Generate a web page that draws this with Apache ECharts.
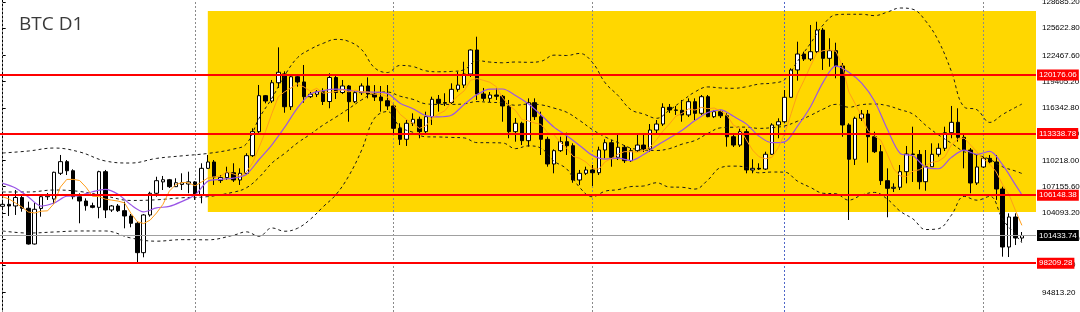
<!DOCTYPE html>
<html>
<head>
<meta charset="utf-8">
<script src="https://cdn.jsdelivr.net/npm/echarts@6/dist/echarts.min.js"></script>
<style>html,body{margin:0;padding:0;background:#fff}#chart{width:1080px;height:312px}</style>
</head>
<body>
<div id="chart"></div>
<script>
// ---- data (BTC daily, 2025-06-01 .. 2025-11-07) ----
const chartTitle = 'BTC D1';
const firstDay = '2025-06-01';
const dayCount = 160;

const open = [
104850,105080,104890,105880,104620,100450,104600,105970,105700,108700,
110060,109000,105970,105470,104920,104730,108890,104420,104890,104340,
103720,102870,99440,103840,106370,107700,107950,107140,107400,107450,
107700,106170,109280,110020,107850,108200,108770,107920,108700,110760,
113560,117760,117140,119270,120300,116470,119970,119360,117640,117920,
118220,117080,119880,118130,118890,117060,118110,118890,117950,117600,
117170,116560,113950,112670,114540,115000,113560,115310,117340,116870,
116960,118500,119000,120290,123090,117960,117450,117840,117690,116560,
113560,114540,112510,116940,115310,112670,109790,111340,112390,111920,
107920,108700,109090,108770,111420,112270,110570,111740,110170,111340,
112000,111540,113750,114450,116400,116090,116050,115510,117060,115700,
117640,115310,115890,115420,112970,112000,113560,109090,109280,109200,
110920,114340,114720,117570,120760,122620,122040,122890,125420,122120,
123010,121220,114340,110340,115120,115620,112970,111220,107840,106950,
107070,108890,110950,110900,107720,109470,110920,111620,113440,114650,
112900,111420,107570,109440,110450,110020,106870,100100,103600,101150];

const close = [
105080,104890,105880,104620,100450,104500,105970,106110,108820,110060,
109000,105970,105470,104920,104730,108890,104420,104890,104340,103720,
102870,99440,103840,106370,107840,107950,107140,107600,107600,107700,
106170,109280,110020,108270,108200,108770,107920,108700,110760,113560,
117760,117140,119270,120490,116470,119970,119360,117640,117920,118220,
117080,119880,118130,118890,117060,118110,118890,117950,117600,117170,
116560,113950,112670,114540,115000,113560,115310,117340,116870,116960,
118500,119000,120290,123090,117960,117450,117840,117690,116560,113560,
114540,112510,116940,115310,112670,109790,111340,112390,111920,107920,
108700,109090,108770,111420,112270,110570,111740,110170,111340,112000,
111540,113750,114450,116400,116090,116050,115510,117060,115700,117640,
115310,115890,115420,112970,112000,113560,109090,109280,109200,110920,
114340,114720,117570,120760,122620,122040,122890,125420,122120,123010,
121220,114340,110340,115120,115620,112970,111220,107840,106950,107070,
108890,110950,110900,107720,109470,110920,111620,113440,114650,112900,
111420,107570,109440,110450,110020,106870,100100,103600,101150,101433.74];

const low = [
104540,103720,103840,104220,100390,100390,103640,105590,105120,108500,
108500,105670,102870,104340,104620,103450,103480,104190,104190,102280,
102400,98210,98900,103640,105970,106750,106990,107100,106750,106370,
105590,105200,109200,107340,107570,107920,107690,107340,108500,110600,
113400,116870,116900,118660,115770,116090,118810,116940,117490,117600,
116670,116290,117370,117950,114720,116900,117840,117450,117140,115890,
116090,113400,112000,111890,114220,112790,113400,114340,115890,116560,
116790,118220,118660,119940,117260,117140,117020,117260,114720,112790,
112390,112000,111810,114920,110840,109470,108700,111190,110840,107600,
107340,108500,107220,108500,110450,109470,110250,109900,110020,111190,
111190,111220,113400,114220,115740,115510,114720,115270,114920,115510,
115240,115150,115150,111810,111770,111770,108700,108700,109090,109100,
110840,112790,114570,117490,119510,121810,121810,122740,120760,121140,
119790,112970,103250,109670,114800,109940,111070,107340,103570,106520,
106750,107530,107690,106830,106670,109440,110640,111300,112790,112390,
109280,106370,107340,109320,109870,105590,98970,98930,100330,100720];

const high = [
105590,106170,106750,106170,105390,105240,106170,106400,108890,110840,
110250,109170,106370,105780,105270,109000,109090,105000,105120,105390,
103950,103050,103950,106550,108300,108390,108040,108120,108700,108890,
107800,109870,110840,110250,108500,109470,109870,109280,111040,113950,
119010,117840,119590,123400,120600,120170,120290,121340,118190,118420,
118620,120370,120250,119590,119000,118300,119200,119900,119000,118890,
119000,116790,114540,114920,115700,115310,115890,117640,117840,118040,
119200,120560,121720,123170,124640,118660,118190,118620,117840,117260,
115150,114720,117450,117450,115890,112970,111500,112970,113440,112200,
109090,109470,109670,111810,112670,112590,113370,112000,111650,113170,
113370,114450,114920,116870,116790,116560,117260,117450,117450,117840,
117840,116090,116090,115700,113370,113950,113870,110340,109870,111220,
114540,115120,118420,120950,124060,122890,126010,126390,125660,124460,
123940,121570,114540,115310,116090,116090,113560,112000,109280,107530,
109670,111890,114140,111420,111420,112200,112200,114140,116560,116290,
113170,111650,110840,110640,110840,110840,107140,104030,104030,101850];

// fast moving average (orange), one value per day
const maFast = [
105970,105700,105230,104770,104180,104070,104280,104320,105160,107090,
107990,107990,107860,107080,106020,105990,105690,105570,105460,105250,
104040,103050,102840,103240,104070,105080,106620,107380,107630,107600,
107240,107670,108150,108290,108370,108890,108620,108350,108850,109940,
111740,113580,115690,117640,118220,118670,119110,118780,118270,118620,
118050,118150,118250,118450,118210,118410,118210,118180,117920,117940,
117640,116650,115590,114980,114550,113940,114210,115140,115610,116010,
117000,117730,118330,119570,119760,119550,119320,118810,117500,116610,
116030,114970,114820,114570,114400,113440,113200,112300,111620,110670,
110450,110010,109280,109180,110050,110430,110950,111230,111220,111160,
111360,111760,112620,113630,114440,115350,115700,116220,116080,116390,
116240,116320,115990,115450,114310,113960,112610,111390,110630,110400,
110570,111690,113350,115660,118000,119540,121180,122750,123020,123100,
122940,121220,118200,116800,115330,113670,113050,112550,110920,109210,
108400,108340,108950,109110,109590,110000,110120,110640,112020,112700,
112810,111990,111200,110360,109770,108860,107370,106200,104350,102630];

// slow moving average (purple), read every second day
const maSlowDays = [
0,2,4,6,8,10,12,14,16,18,20,22,24,26,28,30,32,34,36,38,
40,42,44,46,48,50,52,54,56,58,60,62,64,66,68,70,72,74,76,78,
80,82,84,86,88,90,92,94,96,98,100,102,104,106,108,110,112,114,116,118,
120,122,124,126,128,130,132,134,136,138,140,142,144,146,148,150,152,154,156,158,159];
const maSlow = [
107530,106990,105940,104880,105230,106030,106100,106550,106830,106260,
105020,104210,104660,104840,105430,106170,107770,107990,108140,108570,
110310,112030,114080,116340,117960,118350,118520,118410,118180,118180,
118030,116880,116240,115430,115290,115470,116740,117890,118530,118540,
117790,116810,115500,114090,113090,111950,110790,110360,110470,110190,
110890,111920,112810,113730,114850,115800,116110,115350,114470,113030,
112270,112370,114210,116440,119340,121230,120480,119220,117140,113860,
111030,110750,109400,109230,110560,111400,110920,111250,109680,107350,106200];

// Bollinger bands (dashed), read at these days
const bandDays = [
0,4,8,12,16,20,24,28,32,
36,38,40,42,44,46,48,50,52,54,
56,58,60,62,64,66,68,70,72,74,
76,78,80,82,84,86,88,90,92,94,
96,98,100,102,104,106,108,110,112,114,
116,118,120,122,124,126,128,130,132,134,
136,138,140,142,144,146,148,150,152,154,
156,158,159];
const bandUpper = [
111070,111300,111650,111190,110140,109900,110440,110740,111020,
111530,112120,115120,117470,120130,122200,123180,123870,124330,124090,
123130,121020,120460,121290,121160,120660,120550,120590,120790,121850,
121680,121600,121690,121650,121770,122490,122450,122690,121640,119250,
117780,116130,115620,115120,116060,117150,118200,118780,118660,118620,
118800,119120,119220,119640,121780,123840,126020,127200,127260,127260,
127100,127510,127990,127840,126460,124130,120600,116440,116110,114640,
115570,116390,116780];
const bandMiddle = [
106520,106520,106750,106580,106050,105530,105610,105850,105980,
106500,107000,108230,109890,111030,112250,113260,114340,115270,116250,
117270,118070,118190,117700,117330,116810,116740,116740,116810,117070,
116980,116920,116640,116780,116690,116310,115820,114870,113800,112940,
112280,111640,111420,111360,111580,112110,112530,113350,114010,114080,
114090,113940,114030,114230,114780,115450,116190,116750,116410,116710,
116790,116600,116130,115610,114300,113180,112210,111220,110840,110320,
109460,108960,108680];
const bandLower = [
101970,101730,101850,101970,101970,101150,100780,100960,100940,
101470,101870,101350,102320,101940,102290,103340,104800,106220,108410,
111410,115120,115910,114100,113490,112960,112940,112890,112830,112280,
112270,112240,111580,111900,111620,110120,109200,107060,105960,106620,
106790,107150,107220,107600,107100,107070,106860,107910,109370,109540,
109390,108760,108850,108830,107780,107060,106370,106310,105570,106160,
106470,105690,104280,103380,102140,102240,103820,106010,105560,106010,
103340,101520,100580];

// horizontal levels and the current price
const levels = [120176.06, 113338.78, 106148.38, 98209.28];
const lastPrice = 101433.74;

// highlighted range box
const zoneStartDay = 32;
const zoneTop = 127641;
const zoneBottom = 104185;

// price scale labels
const priceTicks = [128685.20, 125622.80, 122467.60, 119405.20, 116342.80, 113280.40,
  110218.00, 107155.60, 104093.20, 101030.80, 97968.40, 94813.20];

// ---- build ----
const dates = [];
{
  const d = new Date(firstDay + 'T00:00:00Z');
  for (let k = 0; k < dayCount; k++) {
    dates.push(d.toISOString().slice(0, 10));
    d.setUTCDate(d.getUTCDate() + 1);
  }
}
const monthStarts = dates.map((d, i) => d.endsWith('-01') ? i : -1).filter(i => i >= 0);

const candles = dates.map((d, i) => [i, open[i], close[i], low[i], high[i]]);
const pairs = (days, vals) => days.map((d, k) => [d, vals[k]]);

const fmt = v => Number(v).toFixed(2);
const FONT = 'Liberation Sans';

const chart = echarts.init(document.getElementById('chart'), null, { renderer: 'canvas' });
chart.setOption({
  animation: false,
  backgroundColor: '#ffffff',
  title: {
    text: chartTitle, left: 19, top: 15, padding: 0,
    textStyle: { fontFamily: 'Open Sans', fontSize: 19, fontWeight: 'normal', color: '#3a3a3a' }
  },
  grid: { left: 0, right: 44, top: 0, bottom: 0, containLabel: false, outerBoundsMode: 'none' },
  xAxis: { type: 'value', min: -0.42, max: 161.2, show: false },
  yAxis: {
    type: 'value', position: 'right', min: 92515, max: 128925,
    splitLine: { show: false },
    axisLine: { show: true, lineStyle: { color: '#000', width: 1 } },
    axisTick: { show: true, length: 3, customValues: priceTicks, lineStyle: { color: '#000' } },
    axisLabel: { customValues: priceTicks, formatter: fmt, fontSize: 8, fontFamily: FONT, color: '#000', margin: 6 }
  },
  series: [
    {
      name: 'separators', type: 'line', data: [], z: 1,
      markLine: {
        silent: true, symbol: ['none', 'none'], z: 1.5, label: { show: false },
        lineStyle: { type: [2, 2], color: '#8a8a8a', width: 1 },
        data: monthStarts.map((d, k) => ({ xAxis: d, lineStyle: k === 4 ? { color: '#4f67c8' } : {} }))
      }
    },
    {
      name: 'BTC', type: 'candlestick', data: candles, barWidth: 4, z: 3,
      itemStyle: { color: '#ffffff', color0: '#000000', borderColor: '#000000', borderColor0: '#000000', borderWidth: 1 },
      markArea: {
        silent: true, z: 1,
        itemStyle: { color: '#FFD700' },
        data: [[{ xAxis: zoneStartDay, yAxis: zoneTop }, { yAxis: zoneBottom }]]
      },
      markLine: {
        silent: true, symbol: ['none', 'none'], z: 6,
        data: levels.map(v => ({
          yAxis: v,
          lineStyle: { color: '#ff0000', width: 2, type: 'solid' },
          label: { show: true, position: 'end', distance: 1, formatter: p => fmt(p.value),
            backgroundColor: '#ff0000', color: '#ffffff', fontSize: 8, fontFamily: FONT, padding: [2, 2, 1, 2] }
        })).concat([{
          yAxis: lastPrice,
          lineStyle: { color: '#a0a0a0', width: 1, type: 'solid' },
          label: { show: true, position: 'end', distance: 1, formatter: p => fmt(p.value),
            backgroundColor: '#000000', color: '#ffffff', fontSize: 8, fontFamily: FONT, padding: [2, 2, 1, 2] }
        }])
      }
    },
    { name: 'BB upper', type: 'line', data: pairs(bandDays, bandUpper), showSymbol: false, smooth: 0.4, z: 4,
      lineStyle: { color: '#1a1a1a', width: 1, type: [3, 3] } },
    { name: 'BB middle', type: 'line', data: pairs(bandDays, bandMiddle), showSymbol: false, smooth: 0.4, z: 4,
      lineStyle: { color: '#1a1a1a', width: 1, type: [3, 3] } },
    { name: 'BB lower', type: 'line', data: pairs(bandDays, bandLower), showSymbol: false, smooth: 0.4, z: 4,
      lineStyle: { color: '#1a1a1a', width: 1, type: [3, 3] } },
    { name: 'MA slow', type: 'line', data: pairs(maSlowDays, maSlow), showSymbol: false, smooth: 0.3, z: 4,
      lineStyle: { color: '#9a55e6', width: 1.2 } },
    { name: 'MA fast', type: 'line', data: maFast.map((v, i) => [i, v]), showSymbol: false, z: 4,
      lineStyle: { color: '#ff9e1a', width: 1 } }
  ]
});
</script>
</body>
</html>
